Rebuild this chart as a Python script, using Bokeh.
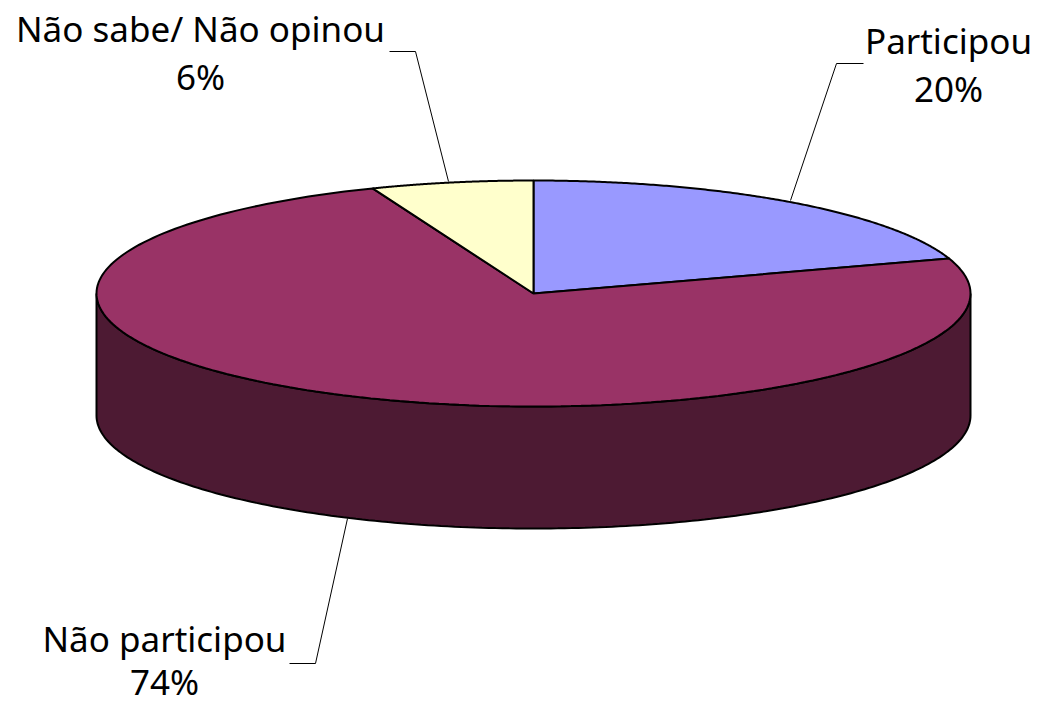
import numpy as np
from bokeh.plotting import figure
from bokeh.models import Range1d
from bokeh.core.properties import value
from bokeh.embed import file_html
from bokeh.resources import INLINE

categories = ["Participou", "Não participou", "Não sabe/ Não opinou"]
values = [20, 74, 6]
percent_labels = ["20%", "74%", "6%"]
colors = ["#9999FF", "#993366", "#FFFFCC"]
side_color = "#4D1A33"

W, H = 1037, 704
CX, CY, RX, RY, DEPTH = 533, 293, 437, 113, 122

p = figure(width=W, height=H, output_backend="svg", toolbar_location=None,
           x_range=Range1d(0, W), y_range=Range1d(H, 0),
           x_axis_type=None, y_axis_type=None, min_border=0)
p.grid.visible = False
p.outline_line_color = None

def arc(a0, a1, dy=0, n=200):
    t = np.radians(np.linspace(a0, a1, n))
    return CX + RX*np.sin(t), CY + dy - RY*np.cos(t)

# side wall: visible front half of the cylinder
x0, y0 = arc(90, 270)
x1, y1 = arc(270, 90, DEPTH)
p.patch(np.r_[x0, x1], np.r_[y0, y1], fill_color=side_color, line_color="black", line_width=2)

# top slices, clockwise from 12 o'clock
cum = np.cumsum([0] + values) / sum(values) * 360
for i, c in enumerate(colors):
    x, y = arc(cum[i], cum[i+1])
    p.patch(np.r_[CX, x], np.r_[CY, y], fill_color=c, line_color="black", line_width=2)

# leader lines
lead_x = [[863, 836, 790], [289, 315, 347], [389, 415, 448]]
lead_y = [[63, 63, 200], [663, 663, 518], [51, 51, 181]]
for lx, ly in zip(lead_x, lead_y):
    p.line(lx, ly, line_color="black", line_width=1)

# labels
font = value("Noto Sans")
fs = "35px"
lab_x = [948, 164, 200]
lab_y = [40, 638, 28]
pct_y = [88, 681, 76]
for i in range(3):
    for txt, yy in ((categories[i], lab_y[i]), (percent_labels[i], pct_y[i])):
        p.text([lab_x[i]], [yy], text=[txt], text_font=font, text_font_size=fs,
               text_align="center", text_baseline="middle", text_color="black")

open("out.html", "w").write(file_html(p, INLINE))
